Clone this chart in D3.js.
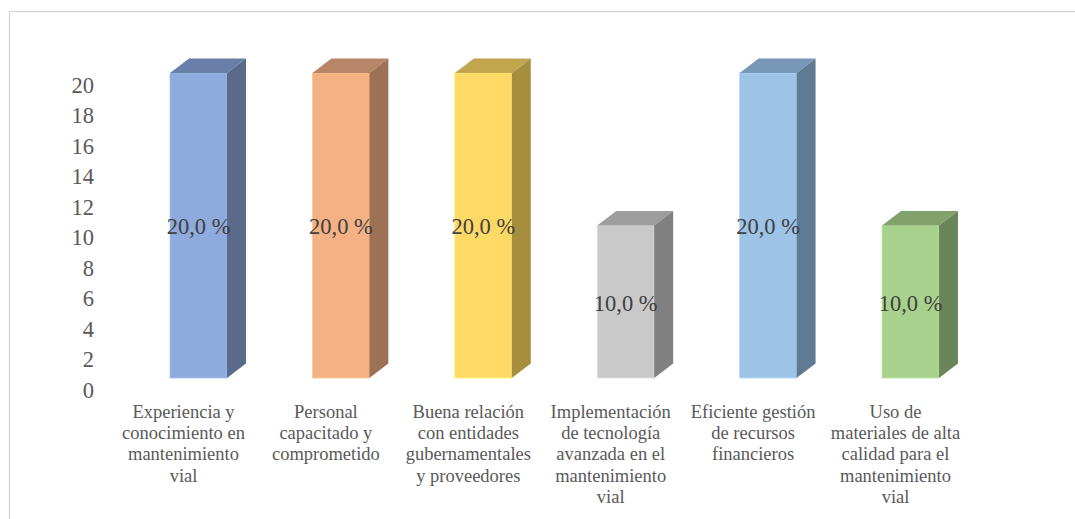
<!DOCTYPE html>
<html>
<head>
<meta charset="utf-8">
<script src="https://cdn.jsdelivr.net/npm/d3@7"></script>
<style>
  html, body { margin: 0; padding: 0; background: #ffffff; }
  svg { display: block; }
  svg text { font-family: "Liberation Serif", "Times New Roman", serif; }
</style>
</head>
<body>
<svg id="chart" width="1075" height="519"></svg>
<script>
// Category labels (line breaks as wrapped under each bar)
const categories = [
  "Experiencia y\nconocimiento en\nmantenimiento\nvial",
  "Personal\ncapacitado y\ncomprometido",
  "Buena relación\ncon entidades\ngubernamentales\ny proveedores",
  "Implementación\nde tecnología\navanzada en el\nmantenimiento\nvial",
  "Eficiente gestión\nde recursos\nfinancieros",
  "Uso de\nmateriales de alta\ncalidad para el\nmantenimiento\nvial"
];
// Percentage for each category
const values = [20, 20, 20, 10, 20, 10];
// Value axis ticks
const yTicks = [0, 2, 4, 6, 8, 10, 12, 14, 16, 18, 20];

// Face colours of each 3D column: front, top, right side
const frontColors = ["#8faadc", "#f4b183", "#ffd966", "#c9c9c9", "#9dc3e6", "#a9d18e"];
const topColors   = ["#6a7fa7", "#b88569", "#c1a64f", "#9d9d9d", "#7896b6", "#82a26c"];
const sideColors  = ["#5a6a8b", "#9c7155", "#a78e3f", "#808080", "#617a93", "#6a8658"];

const serif = "'Liberation Serif', 'Times New Roman', serif";
const svg = d3.select("#chart");

// Chart frame
svg.append("rect")
  .attr("x", 9.5).attr("y", 11.5)
  .attr("width", 1200).attr("height", 700)
  .attr("fill", "none")
  .attr("stroke", "#d4d4d4")
  .attr("stroke-width", 1.3);

// Scales
const x = d3.scaleBand()
  .domain(d3.range(categories.length))
  .range([127.3, 981.7])
  .paddingInner(0.6)
  .paddingOuter(0.3);

const y = d3.scaleLinear().domain([0, 20]).range([378, 73]);

// Depth of the 3D extrusion
const depthX = 19, depthY = -14.5;

// Value axis (sits on the back wall, slightly lower than the column fronts)
const axis = d3.axisLeft(y).tickValues(yTicks).tickSize(0).tickPadding(0)
  .tickFormat(d3.format("d"));
const axisG = svg.append("g")
  .attr("transform", "translate(94,12)")
  .call(axis)
  .attr("font-family", serif)
  .attr("font-size", 22.5);
axisG.select(".domain").remove();
axisG.selectAll("text")
  .style("font-family", serif)
  .attr("fill", "#595959")
  .attr("dy", "0.33em");

// Columns
const bars = svg.append("g").selectAll("g.bar")
  .data(values.map((v, i) => ({ v, i })))
  .join("g")
  .attr("class", "bar");

bars.append("rect")
  .attr("x", d => x(d.i))
  .attr("y", d => y(d.v))
  .attr("width", x.bandwidth())
  .attr("height", d => y(0) - y(d.v))
  .attr("fill", d => frontColors[d.i])
  .attr("stroke", d => d3.color(frontColors[d.i]).brighter(0.3))
  .attr("stroke-width", 0.8);

bars.append("path")
  .attr("d", d => {
    const x0 = x(d.i), x1 = x0 + x.bandwidth(), yt = y(d.v);
    return `M${x0},${yt}L${x0 + depthX},${yt + depthY}L${x1 + depthX},${yt + depthY}L${x1},${yt}Z`;
  })
  .attr("fill", d => topColors[d.i]);

bars.append("path")
  .attr("d", d => {
    const x1 = x(d.i) + x.bandwidth(), yt = y(d.v), yb = y(0);
    return `M${x1},${yt}L${x1 + depthX},${yt + depthY}L${x1 + depthX},${yb + depthY}L${x1},${yb}Z`;
  })
  .attr("fill", d => sideColors[d.i]);

// Data labels centred on each column front
const fmt = v => v.toFixed(1).replace(".", ",") + " %";
bars.append("text")
  .attr("x", d => x(d.i) + x.bandwidth() / 2)
  .attr("y", d => (y(d.v) + y(0)) / 2 + 1.5)
  .attr("dy", "0.33em")
  .attr("text-anchor", "middle")
  .style("font-family", serif)
  .attr("font-size", 22.5)
  .attr("fill", "#404040")
  .text(d => fmt(d.v));

// Category labels below the columns
const labelOffset = -15;
const catG = svg.append("g").selectAll("text.cat")
  .data(categories.map((c, i) => ({ c, i })))
  .join("text")
  .attr("class", "cat")
  .attr("text-anchor", "middle")
  .style("font-family", serif)
  .attr("font-size", 18.5)
  .attr("fill", "#595959");

catG.each(function(d) {
  const cx = x(d.i) + x.bandwidth() / 2 + labelOffset;
  d3.select(this).selectAll("tspan")
    .data(d.c.split("\n"))
    .join("tspan")
    .attr("x", cx)
    .attr("y", (line, k) => 418 + k * 21.2)
    .text(line => line);
});
</script>
</body>
</html>
